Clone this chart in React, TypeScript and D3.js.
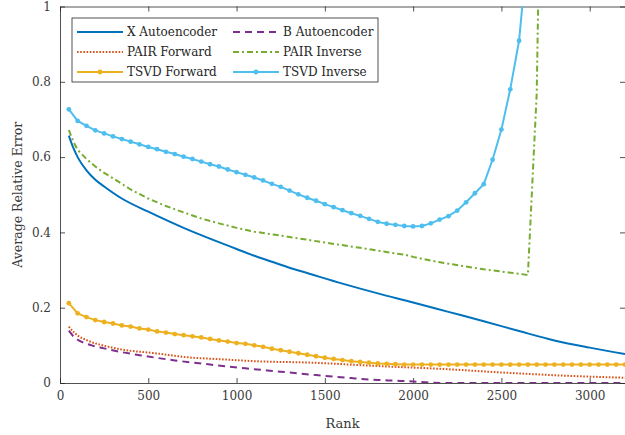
import React, { useEffect, useRef } from 'react'
import * as d3 from 'd3'

// ranks met markers (elke 50)
const markerRanks = d3.range(50, 3201, 50)

const tsvdForward = [
	0.212, 0.185, 0.175, 0.167, 0.162, 0.158, 0.153, 0.15, 0.145, 0.142, 0.137, 0.134, 0.13, 0.127, 0.124, 0.121,
	0.117, 0.113, 0.11, 0.106, 0.104, 0.1, 0.096, 0.091, 0.087, 0.083, 0.079, 0.075, 0.071, 0.067, 0.064, 0.061,
	0.058, 0.056, 0.054, 0.052, 0.051, 0.05, 0.049, 0.049, 0.049, 0.049, 0.049, 0.049, 0.049, 0.049, 0.049, 0.049,
	0.049, 0.049, 0.049, 0.049, 0.049, 0.049, 0.049, 0.049, 0.049, 0.049, 0.049, 0.049, 0.049, 0.049, 0.049, 0.049,
]

const tsvdInverse = [
	0.727, 0.696, 0.683, 0.671, 0.663, 0.655, 0.648, 0.641, 0.634, 0.627, 0.621, 0.614, 0.608, 0.601, 0.595, 0.588,
	0.581, 0.575, 0.567, 0.56, 0.553, 0.546, 0.538, 0.529, 0.521, 0.511, 0.501, 0.492, 0.484, 0.475, 0.467, 0.459,
	0.451, 0.444, 0.436, 0.428, 0.423, 0.42, 0.417, 0.416, 0.417, 0.424, 0.434, 0.443, 0.458, 0.48, 0.504, 0.528,
	0.593, 0.673, 0.78, 0.909, 1.16,
]

// gladde lijnen zonder markers
const xAutoRanks = [50, 75, 100, 150, 200, 250, 350, 500, 700, 900, 1000, 1100, 1200, 1300, 1400, 1600, 1800, 2000, 2200, 2400, 2600, 2800, 3000, 3200]
const xAutoencoder = [0.657, 0.625, 0.6, 0.565, 0.54, 0.522, 0.49, 0.455, 0.412, 0.374, 0.356, 0.338, 0.322, 0.306, 0.292, 0.264, 0.238, 0.214, 0.189, 0.164, 0.138, 0.113, 0.094, 0.077]

const bAutoRanks = [50, 80, 120, 180, 250, 350, 450, 650, 850, 1050, 1250, 1450, 1650, 1800, 1900, 2000, 2100, 2200, 2600, 3200]
const bAutoencoder = [0.139, 0.122, 0.11, 0.1, 0.092, 0.082, 0.074, 0.06, 0.049, 0.039, 0.03, 0.021, 0.013, 0.008, 0.006, 0.004, 0.001, 0, 0, 0]

const pairFwdRanks = [50, 85, 160, 250, 350, 540, 730, 915, 1100, 1425, 1800, 2180, 2500, 2880, 3200]
const pairForward = [0.15, 0.132, 0.112, 0.099, 0.089, 0.079, 0.068, 0.063, 0.058, 0.054, 0.045, 0.037, 0.028, 0.019, 0.014]

const pairInvRanks = [50, 75, 100, 150, 200, 250, 300, 400, 500, 600, 700, 800, 900, 1000, 1100, 1300, 1500, 1700, 1900, 1950, 2000, 2100, 2200, 2400, 2600, 2650, 2700, 2750]
const pairInverse = [0.672, 0.642, 0.619, 0.595, 0.575, 0.558, 0.544, 0.514, 0.49, 0.47, 0.453, 0.437, 0.424, 0.412, 0.402, 0.388, 0.373, 0.359, 0.344, 0.341, 0.335, 0.325, 0.317, 0.302, 0.29, 0.287, 0.77, 2.2]

const xTicks = [0, 500, 1000, 1500, 2000, 2500, 3000]
const yTicks = [0, 0.2, 0.4, 0.6, 0.8, 1]

const W = 625
const H = 435
const margin = { top: 6.5, bottom: 52, left: 60, right: 0 }
const font = 'DejaVu Serif'

function App() {
	const ref = useRef<SVGSVGElement>(null)

	useEffect(() => {
		const svg = d3.select(ref.current)
		svg.selectAll('*').remove()

		const iw = W - margin.left - margin.right
		const ih = H - margin.top - margin.bottom
		const x = d3.scaleLinear().domain([0, 3200]).range([0, iw])
		const y = d3.scaleLinear().domain([0, 1]).range([ih, 0])

		const g = svg.append('g').attr('transform', `translate(${margin.left},${margin.top})`)

		g.append('clipPath').attr('id', 'clip').append('rect').attr('width', iw).attr('height', ih)

		// assen
		const axisColor = '#262626'
		const styleAxis = (sel: any) => {
			sel.attr('font-family', null).attr('font-size', null)
			sel.select('.domain').attr('stroke', axisColor).attr('stroke-width', 0.8)
			sel.selectAll('.tick line').attr('stroke', axisColor).attr('stroke-width', 0.8)
			sel.selectAll('.tick text').attr('fill', '#3a3a3a').attr('font-family', font).attr('font-size', 12)
		}
		g.append('g')
			.attr('transform', `translate(0,${ih})`)
			.call(d3.axisBottom(x).tickValues(xTicks).tickSizeInner(-5).tickSizeOuter(0).tickPadding(8).tickFormat(d3.format('d')))
			.call(styleAxis)
		g.append('g')
			.call(d3.axisTop(x).tickValues(xTicks).tickSizeInner(-5).tickSizeOuter(0).tickFormat(() => ''))
			.call(styleAxis)
		g.append('g')
			.call(d3.axisLeft(y).tickValues(yTicks).tickSizeInner(-5).tickSizeOuter(0).tickPadding(9).tickFormat(d => String(+d)))
			.call(styleAxis)
		g.append('g')
			.attr('transform', `translate(${iw},0)`)
			.call(d3.axisRight(y).tickValues(yTicks).tickSizeInner(-5).tickSizeOuter(0).tickFormat(() => ''))
			.call(styleAxis)

		// as labels
		svg.append('text')
			.attr('x', margin.left + iw / 2)
			.attr('y', 428)
			.attr('text-anchor', 'middle')
			.attr('fill', '#3a3a3a')
			.attr('font-family', font)
			.attr('font-size', 13)
			.text('Rank')
		svg.append('text')
			.attr('transform', `translate(22,${margin.top + ih / 2}) rotate(-90)`)
			.attr('text-anchor', 'middle')
			.attr('fill', '#3a3a3a')
			.attr('font-family', font)
			.attr('font-size', 12.5)
			.text('Average Relative Error')

		const series = [
			{ name: 'X Autoencoder', ranks: xAutoRanks, values: xAutoencoder, color: '#0072BD', dash: null, markers: false },
			{ name: 'B Autoencoder', ranks: bAutoRanks, values: bAutoencoder, color: '#7E2F8E', dash: '7,5', markers: false },
			{ name: 'PAIR Forward', ranks: pairFwdRanks, values: pairForward, color: '#D95319', dash: '1.6,1.6', markers: false },
			{ name: 'PAIR Inverse', ranks: pairInvRanks, values: pairInverse, color: '#77AC30', dash: '6,3,2,3', markers: false },
			{ name: 'TSVD Forward', ranks: markerRanks, values: tsvdForward, color: '#EDB120', dash: null, markers: true },
			{ name: 'TSVD Inverse', ranks: markerRanks.slice(0, tsvdInverse.length), values: tsvdInverse, color: '#4DBEEE', dash: null, markers: true },
		]

		const plot = g.append('g').attr('clip-path', 'url(#clip)')
		series.forEach(s => {
			const pts = s.values.map((v, i) => [s.ranks[i], v] as [number, number])
			const line = d3
				.line<[number, number]>()
				.x(d => x(d[0]))
				.y(d => y(d[1]))
				.curve(s.markers || s.name === 'PAIR Inverse' ? d3.curveLinear : d3.curveMonotoneX)
			plot.append('path')
				.attr('d', line(pts))
				.attr('fill', 'none')
				.attr('stroke', s.color)
				.attr('stroke-width', 2)
				.attr('stroke-dasharray', s.dash)
			if (s.markers) {
				plot.selectAll(null)
					.data(pts)
					.join('circle')
					.attr('cx', d => x(d[0]))
					.attr('cy', d => y(d[1]))
					.attr('r', 2.4)
					.attr('fill', s.color)
			}
		})

		// legenda
		const lg = svg.append('g').attr('transform', 'translate(72,18)')
		lg.append('rect').attr('width', 306).attr('height', 64).attr('fill', '#fff').attr('stroke', axisColor).attr('stroke-width', 0.8)
		series.forEach((s, i) => {
			const col = i % 2
			const row = Math.floor(i / 2)
			const lx = 5 + col * 156
			const ly = 14 + row * 20
			lg.append('line')
				.attr('x1', lx).attr('x2', lx + 46)
				.attr('y1', ly).attr('y2', ly)
				.attr('stroke', s.color)
				.attr('stroke-width', 2)
				.attr('stroke-dasharray', s.dash)
			if (s.markers) {
				lg.append('circle').attr('cx', lx + 23).attr('cy', ly).attr('r', 2.4).attr('fill', s.color)
			}
			lg.append('text')
				.attr('x', lx + 50)
				.attr('y', ly)
				.attr('dy', '0.35em')
				.attr('fill', '#262626')
				.attr('font-family', font)
				.attr('font-size', 12)
				.text(s.name)
		})
	}, [])

	return <svg ref={ref} width={W} height={H} style={{ position: 'absolute', left: 0, top: 0, background: '#fff' }} />
}

export default App
